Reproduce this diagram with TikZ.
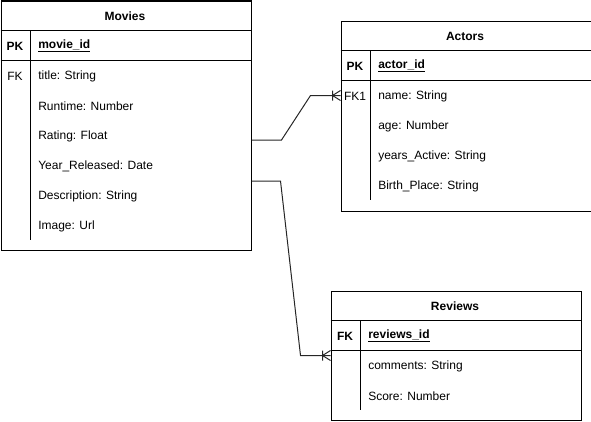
\documentclass[tikz,border=0pt]{standalone}
\usepackage{fontspec}
\setmainfont{Liberation Sans}
\usetikzlibrary{calc}
\begin{document}
\begin{tikzpicture}[x=0.75pt,y=-0.75pt,
  every node/.style={font=\fontsize{9}{11}\selectfont},
  tbl/.style={draw, line width=0.75pt, inner sep=0, anchor=north west},
  tline/.style={line width=0.75pt},
  hdr/.style={font=\fontsize{9}{11}\selectfont\bfseries},
  fld/.style={anchor=west, inner sep=0},
  keyl/.style={inner sep=0},
  conn/.style={draw, line width=0.75pt, black!85},
  crow/.pic={\draw[conn] (-8,0) -- (0,-5) (-8,0) -- (0,5) (-8,-5) -- (-8,5);}
]
\useasboundingbox (0,0) rectangle (591,421);

% Movies
\node[tbl, minimum width=250*0.75pt, minimum height=249.5*0.75pt] (movies) at (0.5,0.5) {};
\draw[tline] (0.5,30.5) -- (250.5,30.5) (0.5,60.5) -- (250.5,60.5) (30.5,30.5) -- (30.5,240);
\node[hdr] (mt) at (125,16) {Movies};
\node[keyl,font=\fontsize{9}{11}\selectfont\bfseries] (mpk) at (15,46) {PK};
\node[fld,font=\fontsize{9}{11}\selectfont\bfseries] (mid) at (38,46) {\underline{movie\_id}};
\node[keyl] (mfk) at (15,76) {FK};
\node[fld] (m1) at (38,76) {title: String};
\node[fld] (m2) at (38,106) {Runtime: Number};
\node[fld] (m3) at (38,136) {Rating: Float};
\node[fld] (m4) at (38,166) {Year\_Released: Date};
\node[fld] (m5) at (38,196) {Description: String};
\node[fld] (m6) at (38,226) {Image: Url};

% Actors
\node[tbl, minimum width=250*0.75pt, minimum height=190*0.75pt] (actors) at (340.5,20.5) {};
\draw[tline] (340.5,50.5) -- (590.5,50.5) (340.5,80.5) -- (590.5,80.5) (370.5,50.5) -- (370.5,200);
\node[hdr] (at) at (465,36) {Actors};
\node[keyl,font=\fontsize{9}{11}\selectfont\bfseries] (apk) at (355,66) {PK};
\node[fld,font=\fontsize{9}{11}\selectfont\bfseries] (aid) at (378,66) {\underline{actor\_id}};
\node[keyl] (afk) at (355,96) {FK1};
\node[fld] (a1) at (378,96) {name: String};
\node[fld] (a2) at (378,126) {age: Number};
\node[fld] (a3) at (378,156) {years\_Active: String};
\node[fld] (a4) at (378,186) {Birth\_Place: String};

% Reviews
\node[tbl, minimum width=250*0.75pt, minimum height=129.5*0.75pt] (reviews) at (330.5,290.5) {};
\draw[tline] (330.5,320.5) -- (580.5,320.5) (330.5,350.5) -- (580.5,350.5) (360.5,320.5) -- (360.5,410);
\node[hdr] (rt) at (455,306) {Reviews};
\node[keyl,font=\fontsize{9}{11}\selectfont\bfseries] (rpk) at (345,336) {FK};
\node[fld,font=\fontsize{9}{11}\selectfont\bfseries] (rid) at (368,336) {\underline{reviews\_id}};
\node[fld] (r1) at (368,366) {comments: String};
\node[fld] (r2) at (368,396) {Score: Number};

% Connectors
\coordinate (ma) at ($(movies.north east)+(0,139.5)$);
\coordinate (mr) at ($(movies.north east)+(0,180.5)$);
\coordinate (ae) at ($(actors.north west)+(0,75)$);
\coordinate (re) at ($(reviews.north west)+(0,65)$);
\draw[conn] (ma) -- ++(30,0) -- ($(ae)+(-30,0)$) -- (ae);
\pic at (ae) {crow};
\draw[conn] (mr) -- ++(29,0) -- ($(re)+(-30,0)$) -- (re);
\pic at (re) {crow};
\end{tikzpicture}
\end{document}
